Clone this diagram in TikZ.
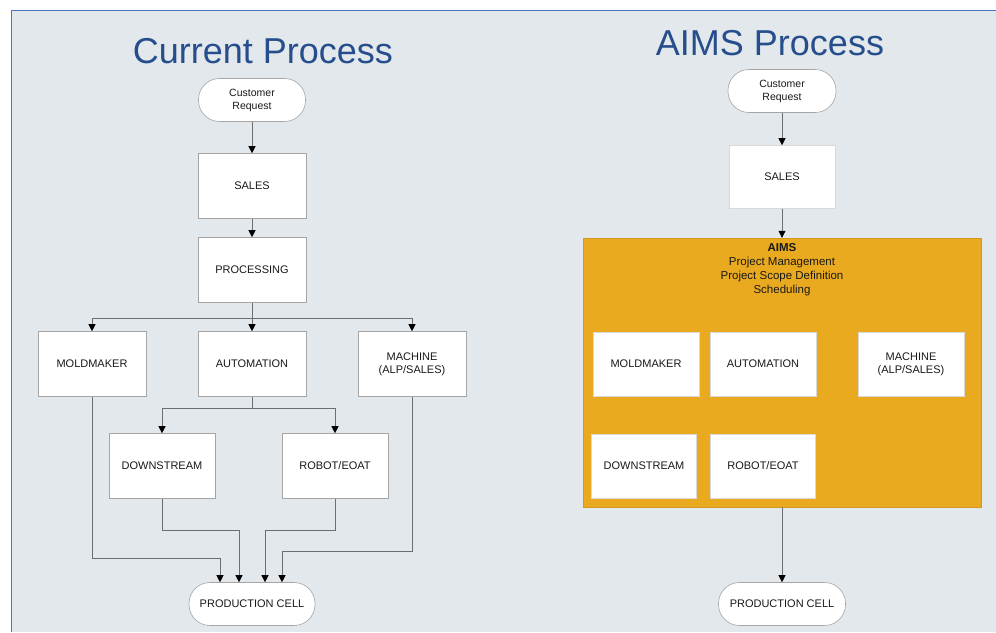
\documentclass[tikz,border=0pt]{standalone}
\usepackage{fontspec}
\setmainfont{Liberation Sans}
\usetikzlibrary{arrows.meta}
\definecolor{bg}{RGB}{227,232,236}
\definecolor{framec}{RGB}{70,120,190}
\definecolor{ttl}{RGB}{38,78,140}
\definecolor{aimsor}{RGB}{234,170,32}
\definecolor{boxln}{RGB}{165,165,165}
\definecolor{conn}{RGB}{110,110,110}
\begin{document}
\begin{tikzpicture}[x=1pt,y=-1pt,
  box/.style={draw=boxln, line width=0.6pt, fill=white, minimum width=108pt, minimum height=65pt, inner sep=2pt, font=\fontsize{11}{13}\selectfont, align=center, text=black!90},
  ibox/.style={box, draw=white!85!black, minimum width=106pt, minimum height=64pt},
  term/.style={draw=boxln, line width=0.6pt, fill=white, rounded corners=21pt, minimum height=43pt, inner sep=2pt, font=\fontsize{10.5}{13}\selectfont, align=center, text=black!90},
  arr/.style={draw=conn, line width=0.6pt, -{Triangle[length=7pt,width=7pt,color=black]}},
  ttlst/.style={text=ttl, font=\fontsize{36}{40}\selectfont, anchor=base}]
\useasboundingbox (0,0) rectangle (996,632);
\fill[white] (0,0) rectangle (996,632);
\fill[bg] (11,10) rectangle (996,632);
\draw[framec, line width=1pt] (11,632) -- (11,10) -- (996,10);

% ---------- Current process ----------
\node[ttlst] (t1) at (263,63) {Current Process};
\node[term, minimum width=107pt] (cr1) at (252,100) {Customer\\Request};
\node[box] (sales1) at (252,186) {SALES};
\node[box] (proc) at (252,270) {PROCESSING};
\node[box] (mold1) at (92,364) {MOLDMAKER};
\node[box] (auto1) at (252,364) {AUTOMATION};
\node[box] (mach1) at (412,364) {MACHINE\\(ALP/SALES)};
\node[box, minimum width=106pt] (down1) at (162,466) {DOWNSTREAM};
\node[box, minimum width=106pt] (rob1) at (335,466) {ROBOT/EOAT};
\node[term, minimum width=126pt, font=\fontsize{11}{13}\selectfont] (prod1) at (252,604) {PRODUCTION CELL};

\draw[arr] (cr1) -- (sales1);
\draw[arr] (sales1) -- (proc);
\draw[arr] (proc) -- (auto1);
\draw[arr] (proc.south) -- ++(0,15) -| (mold1.north);
\draw[arr] (proc.south) -- ++(0,15) -| (mach1.north);
\draw[arr] (auto1.south) -- ++(0,11) -| (down1.north);
\draw[arr] (auto1.south) -- ++(0,11) -| (rob1.north);
\draw[arr] (down1.south) -- ++(0,31) -| ([xshift=-13pt]prod1.north);
\draw[arr] (rob1.south) -- ++(0,31) -| ([xshift=13pt]prod1.north);
\draw[arr] (mold1.south) -- ++(0,161) -| ([xshift=-32pt]prod1.north);
\draw[arr] (mach1.south) -- ++(0,154) -| ([xshift=30pt]prod1.north);

% ---------- AIMS process ----------
\node[ttlst] (t2) at (770,55) {AIMS Process};
\node[term, minimum width=108pt] (cr2) at (782,91) {Customer\\Request};
\node[ibox, minimum height=63pt] (sales2) at (782,177) {SALES};
\node[fill=aimsor, draw=aimsor!90!black, line width=0.4pt, minimum width=398pt, minimum height=269pt, inner sep=0pt] (aims) at (782,372.5) {};
\node[anchor=north, align=center, font=\fontsize{11.5}{14}\selectfont, text=black!90, inner sep=0pt] (aimslbl) at ([yshift=-5pt]aims.north) {\textbf{AIMS}\\Project Management\\Project Scope Definition\\Scheduling};
\node[ibox] (mold2) at (646,364) {MOLDMAKER};
\node[ibox] (auto2) at (763,364) {AUTOMATION};
\node[ibox] (mach2) at (911,364) {MACHINE\\(ALP/SALES)};
\node[ibox, minimum width=105pt] (down2) at (644,466) {DOWNSTREAM};
\node[ibox, minimum width=105pt] (rob2) at (763,466) {ROBOT/EOAT};
\node[term, minimum width=127pt, font=\fontsize{11}{13}\selectfont] (prod2) at (782,604) {PRODUCTION CELL};

\draw[arr] (cr2) -- (sales2);
\draw[arr] (sales2.south) -- (sales2.south |- aims.north);
\draw[arr] (aims.south -| prod2.north) -- (prod2.north);
\end{tikzpicture}
\end{document}
